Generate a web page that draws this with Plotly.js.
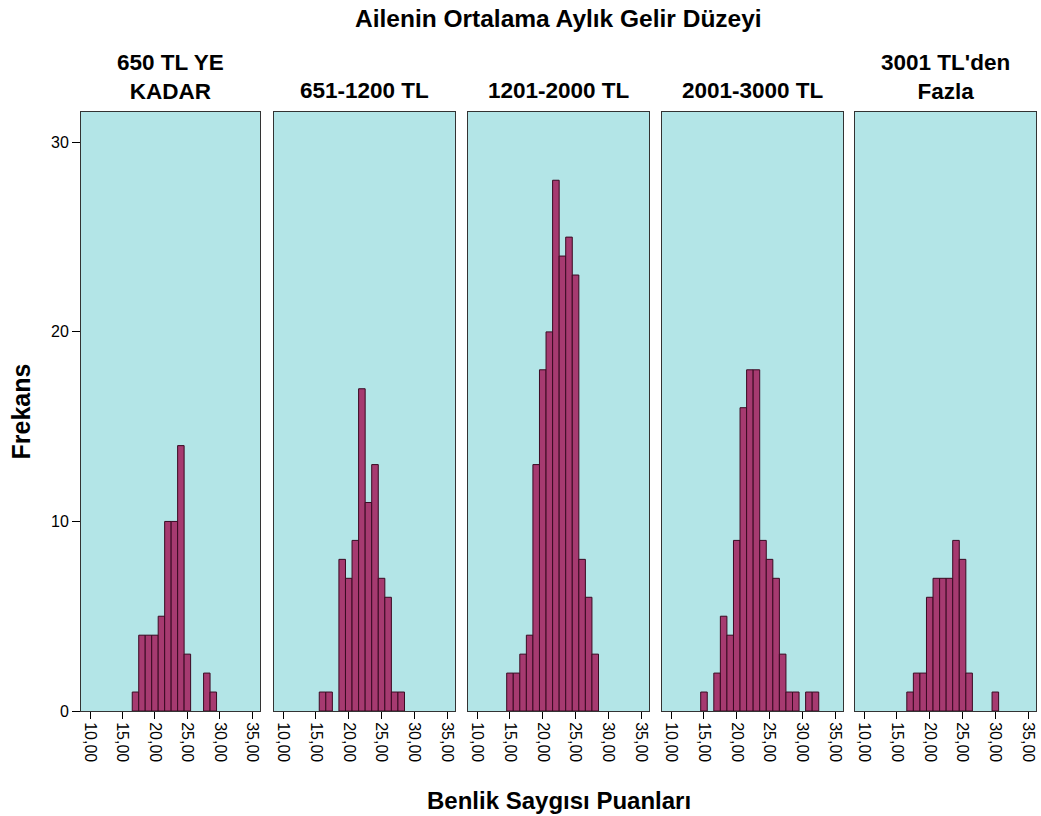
<!DOCTYPE html>
<html>
<head>
<meta charset="utf-8">
<script src="https://cdn.plot.ly/plotly-3.0.1.min.js"></script>
<style>html,body{margin:0;padding:0;background:#fff;}#chart{width:1041px;height:816px;}</style>
</head>
<body>
<div id="chart"></div>
<script>
// Panel (facet) titles
const panelTitles = ["650 TL YE<br>KADAR", "651-1200 TL", "1201-2000 TL", "2001-3000 TL", "3001 TL'den<br>Fazla"];

// Bin centres (score values, bin width 1) and frequencies per income group
const x650 = [17, 18, 19, 20, 21, 22, 23, 24, 25, 28, 29];
const y650 = [1, 4, 4, 4, 5, 10, 10, 14, 3, 2, 1];

const x651_1200 = [16, 17, 19, 20, 21, 22, 23, 24, 25, 26, 27, 28];
const y651_1200 = [1, 1, 8, 7, 9, 17, 11, 13, 7, 6, 1, 1];

const x1201_2000 = [15, 16, 17, 18, 19, 20, 21, 22, 23, 24, 25, 26, 27, 28];
const y1201_2000 = [2, 2, 3, 4, 13, 18, 20, 28, 24, 25, 23, 8, 6, 3];

const x2001_3000 = [15, 17, 18, 19, 20, 21, 22, 23, 24, 25, 26, 27, 28, 29, 31, 32];
const y2001_3000 = [1, 2, 5, 4, 9, 16, 18, 18, 9, 8, 7, 3, 1, 1, 1, 1];

const x3001 = [17, 18, 19, 20, 21, 22, 23, 24, 25, 26, 30];
const y3001 = [1, 2, 2, 6, 7, 7, 7, 9, 8, 2, 1];

// Axis ticks
const xTickVals = [10, 15, 20, 25, 30, 35];
const xTickText = ["10,00", "15,00", "20,00", "25,00", "30,00", "35,00"];
const yTickVals = [0, 10, 20, 30];
const yTickText = ["0", "10", "20", "30"];

const mainTitle = "Ailenin Ortalama Aylık Gelir Düzeyi";
const xTitle = "Benlik Saygısı Puanları";
const yTitle = "Frekans";

const xs = [x650, x651_1200, x1201_2000, x2001_3000, x3001];
const ys = [y650, y651_1200, y1201_2000, y2001_3000, y3001];

const FONT = "Liberation Sans, Arial, sans-serif";
const barFill = "#A63A70";
const barEdge = "#3a0a22";
const panelBg = "#B3E5E7";

const W = 1041, H = 816;
const mL = 81, mR = 5, mT = 112, mB = 105;
const plotW = W - mL - mR;
const panelPx = [[81, 260], [274, 455], [468, 649], [662, 843], [855, 1036]];
const domains = panelPx.map(p => [(p[0] - mL) / plotW, (p[1] - mL) / plotW]);

const traces = [];
const layout = {
  width: W, height: H,
  margin: {l: mL, r: mR, t: mT, b: mB},
  paper_bgcolor: "#ffffff",
  plot_bgcolor: panelBg,
  showlegend: false,
  font: {family: FONT, color: "#000"},
  annotations: [],
  shapes: []
};

// main title
layout.annotations.push({
  text: "<b>" + mainTitle + "</b>",
  xref: "paper", yref: "paper", x: 0.5, y: 1,
  xanchor: "center", yanchor: "middle", yshift: mT - 18,
  showarrow: false, font: {family: FONT, size: 24.5, color: "#000"}
});

for (let i = 0; i < 5; i++) {
  const sfx = i === 0 ? "" : String(i + 1);
  traces.push({
    type: "bar",
    x: xs[i], y: ys[i],
    width: 1,
    xaxis: "x" + sfx, yaxis: "y" + sfx,
    marker: {color: barFill, line: {color: barEdge, width: 1}},
    hoverinfo: "x+y"
  });
  layout["xaxis" + sfx] = {
    domain: domains[i],
    anchor: "y" + sfx,
    range: [8.6, 36.2],
    tickmode: "array", tickvals: xTickVals, ticktext: xTickText,
    tickangle: 90,
    ticks: "outside", ticklen: 7, tickcolor: "#000", tickwidth: 1,
    tickfont: {family: FONT, size: 16, color: "#000"},
    showgrid: false, zeroline: false,
    showline: true, linecolor: "#333", linewidth: 1, mirror: true,
    fixedrange: true
  };
  layout["yaxis" + sfx] = {
    anchor: "x" + sfx,
    domain: [0, 1],
    range: [0, 31.6],
    tickmode: "array", tickvals: yTickVals, ticktext: yTickText,
    showticklabels: i === 0,
    ticks: i === 0 ? "outside" : "",
    ticklen: 8, tickcolor: "#000",
    tickfont: {family: FONT, size: 16, color: "#000"},
    showgrid: false, zeroline: false,
    showline: true, linecolor: "#333", linewidth: 1, mirror: true,
    fixedrange: true
  };
  if (i > 0) layout["yaxis" + sfx].matches = "y";
  const twoLines = panelTitles[i].indexOf("<br>") >= 0;
  layout.annotations.push({
    text: "<b>" + panelTitles[i] + "</b>",
    xref: "paper", yref: "paper",
    x: (domains[i][0] + domains[i][1]) / 2, y: 1,
    xanchor: "center", yanchor: "middle",
    yshift: mT - (twoLines ? 77 : 90),
    showarrow: false,
    font: {family: FONT, size: 22.5, color: "#000"}
  });
}

layout.annotations.push({
  text: "<b>" + xTitle + "</b>",
  xref: "paper", yref: "paper", x: 0.5, y: 0,
  xanchor: "center", yanchor: "middle", yshift: -(800 - (H - mB)),
  showarrow: false, font: {family: FONT, size: 24, color: "#000"}
});
layout.annotations.push({
  text: "<b>" + yTitle + "</b>",
  xref: "paper", yref: "paper", x: 0, y: 0.5,
  xanchor: "center", yanchor: "middle", xshift: -(mL - 20),
  textangle: -90,
  showarrow: false, font: {family: FONT, size: 25, color: "#000"}
});

Plotly.newPlot("chart", traces, layout, {displayModeBar: false, staticPlot: true});
</script>
</body>
</html>
